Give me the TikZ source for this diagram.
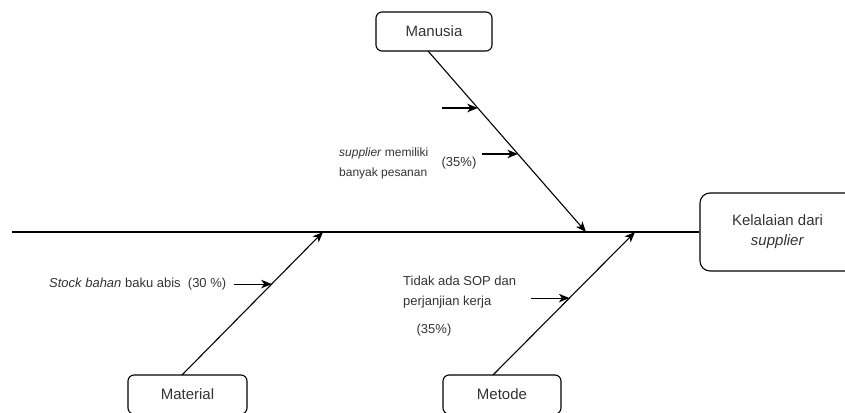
\documentclass[tikz,border=0pt]{standalone}
\usepackage{fontspec}
\setmainfont{Liberation Sans}
\usetikzlibrary{arrows.meta,calc}
\tikzset{
  box/.style={draw, line width=1.1pt, rounded corners=6pt, minimum height=39pt,
              inner sep=0pt, font=\fontsize{15}{18}\selectfont, text=black!80},
  headbox/.style={box, rounded corners=10pt, minimum width=155pt, minimum height=78pt,
                  align=center, font=\fontsize{15}{20}\selectfont},
  bone/.style={line width=1.1pt, -{Stealth[length=10.5pt,width=8.5pt,inset=3pt]}},
  cause/.style={line width=1.1pt, -{Stealth[length=10.5pt,width=8.5pt,inset=3pt]}},
  note/.style={inner sep=0pt, text=black!80, font=\fontsize{13}{20}\selectfont, align=left}
}
\begin{document}
\begin{tikzpicture}[x=1pt,y=-1pt]
  \useasboundingbox (0,0) rectangle (845,412);
  \clip (0,0) rectangle (845,412);

  % effect and category boxes
  \node[headbox] (head) at (777.5,232) {Kelalaian dari\\\textit{supplier}};
  \node[box, minimum width=116pt] (manusia) at (434,31.5) {Manusia};
  \node[box, minimum width=119pt] (material) at (187.5,394.5) {Material};
  \node[box, minimum width=118pt] (metode) at (502,394.5) {Metode};

  % spine
  \coordinate (tail) at (12,232);
  \draw[line width=1.1pt] (tail) -- (head.west);

  % bone roots and tips
  \coordinate (manS) at (428,51);   \coordinate (manE) at (586,232);
  \coordinate (matS) at (182,375);  \coordinate (matE) at (323,232);
  \coordinate (metS) at (493,375);  \coordinate (metE) at (635,232);
  \draw[bone] (manS) -- (manE);
  \draw[bone] (matS) -- (matE);
  \draw[bone] (metS) -- (metE);

  % cause arrows onto the bones
  \coordinate (m1) at ($(manS)!0.315!(manE)$);
  \coordinate (m2) at ($(manS)!0.569!(manE)$);
  \coordinate (a1) at ($(matS)!0.636!(matE)$);
  \coordinate (t1) at ($(metS)!0.538!(metE)$);
  \coordinate (m1t) at ($(m1)+(-36,0)$);
  \coordinate (m2t) at ($(m2)+(-36,0)$);
  \coordinate (a1t) at ($(a1)+(-38,0)$);
  \coordinate (t1t) at ($(t1)+(-38,0)$);
  \draw[cause] (m1t) -- (m1);
  \draw[cause] (m2t) -- (m2);
  \draw[cause] (a1t) -- (a1);
  \draw[cause] (t1t) -- (t1);

  % cause labels
  \node[note, anchor=west, font=\fontsize{12}{20}\selectfont] (sup) at (339,163)
    {\textit{supplier} memiliki\\banyak pesanan};
  \node[note] (supp) at (459,163) {(35\%)};
  \node[note, anchor=west] (stock) at (49,284)
    {\textit{Stock bahan} baku abis~~(30 \%)};
  \node[note, anchor=west] (sop) at (403,292) {Tidak ada SOP dan\\perjanjian kerja};
  \node[note] (sopp) at (434,330) {(35\%)};
\end{tikzpicture}
\end{document}
